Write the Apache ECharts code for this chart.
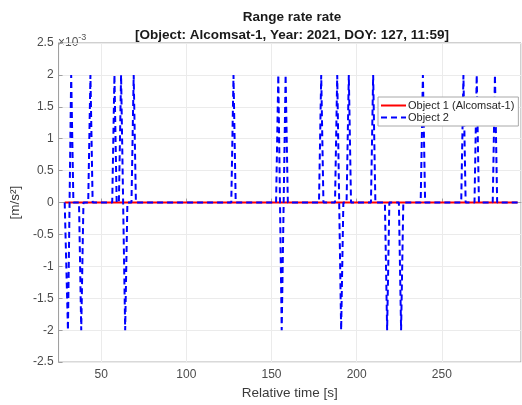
<!DOCTYPE html>
<html>
<head>
<meta charset="utf-8">
<script src="https://cdn.jsdelivr.net/npm/echarts@6/dist/echarts.min.js"></script>
<style>
html,body{margin:0;padding:0;background:#fff;}
#chart{width:522px;height:405px;}
</style>
</head>
<body>
<div id="chart"></div>
<script>
// ---- data (values in units of 1e-3 m/s^2) ----
var titleLine1 = 'Range rate rate';
var titleLine2 = '[Object: Alcomsat-1, Year: 2021, DOY: 127, 11:59]';
var xLabel = 'Relative time [s]';
var yLabel = '[m/s\u00B2]';
var seriesNames = ['Object 1 (Alcomsat-1)', 'Object 2'];

var obj1Time = [28.6, 294.5];
var obj1Value = [0, 0];

var obj2Time = [28.6, 29.2, 30.5, 31.45, 32.4, 33.7, 37.0, 38.3, 39.6, 42.4, 43.7, 45.0,
  56.5, 57.8, 59.1, 60.4, 61.7, 62.9, 64.1, 65.4, 67.8, 69.1, 70.4,
  126.4, 127.7, 129.0, 152.7, 154.0, 155.0, 156.0, 157.15, 158.3, 159.6,
  177.9, 179.2, 180.5, 187.3, 188.6, 189.75, 190.9, 192.2, 194.1, 195.4, 196.7,
  208.4, 209.7, 211.0, 216.6, 217.9, 219.2, 224.8, 226.1, 227.4,
  237.6, 238.9, 240.2, 261.4, 262.7, 264.0, 269.2, 270.5, 271.8, 279.9, 281.2, 282.5, 294.5];
var obj2Value = [0, 0, -2, 0, 2, 0, 0, -2, 0, 0, 2, 0,
  0, 2, 0, 0, 2, 0, -2, 0, 0, 2, 0,
  0, 2, 0, 0, 2, 0, -2, 0, 2, 0,
  0, 2, 0, 0, 2, 0, -2, 0, 0, 2, 0,
  0, 2, 0, 0, -2, 0, 0, -2, 0,
  0, 2, 0, 0, 2, 0, 0, 2, 0, 0, 2, 0, 0];

var xMin = 25, xMax = 296.5;
var yMin = -2.5, yMax = 2.5, yStep = 0.5;

function zip(a, b) { return a.map(function (v, i) { return [v, b[i]]; }); }

var FONT = '"Liberation Sans", Arial, sans-serif';
var chart = echarts.init(document.getElementById('chart'), null, {renderer: 'canvas'});
chart.setOption({
  animation: false,
  backgroundColor: '#ffffff',
  textStyle: {fontFamily: FONT},
  grid: {left: 57, right: 1, top: 43, bottom: 40, show: true, borderColor: '#a0a0a0', borderWidth: 1, backgroundColor: 'transparent'},
  graphic: [
    {type: 'text', x: 292, y: 17, style: {text: titleLine1, font: 'bold 13.5px ' + FONT, fill: '#1a1a1a', textAlign: 'center', textVerticalAlign: 'middle'}},
    {type: 'text', x: 292, y: 35, style: {text: titleLine2, font: 'bold 13.5px ' + FONT, fill: '#1a1a1a', textAlign: 'center', textVerticalAlign: 'middle'}},
    {type: 'text', x: 58, y: 31, style: {
      text: '{a|\u00D710}{b|-3}',
      rich: {a: {fontSize: 12, fontFamily: FONT, fill: '#555', padding: [6, 0, 0, 0]}, b: {fontSize: 9, fontFamily: FONT, fill: '#555', padding: [0, 0, 4, 0]}},
      textVerticalAlign: 'top'
    }}
  ],
  legend: {
    orient: 'vertical', left: 378, top: 97,
    data: seriesNames,
    backgroundColor: '#ffffff', borderColor: '#a8a8a8', borderWidth: 1,
    padding: [3, 4, 3, 2], itemGap: 1, itemWidth: 25, itemHeight: 12,
    itemStyle: {opacity: 0},
    textStyle: {fontSize: 11, color: '#262626', fontFamily: FONT, padding: [0, 0, 0, -3]}
  },
  xAxis: {
    type: 'value', min: xMin, max: xMax, splitNumber: 5,
    name: xLabel, nameLocation: 'middle', nameGap: 22,
    nameTextStyle: {fontSize: 13.5, color: '#3a3a3a', fontFamily: FONT},
    axisLine: {show: true, lineStyle: {color: '#a0a0a0', width: 1}},
    axisTick: {show: true, inside: true, length: 4, lineStyle: {color: '#a0a0a0'}},
    axisLabel: {fontSize: 12, color: '#4a4a4a', margin: 7, showMinLabel: false, showMaxLabel: false, fontFamily: FONT},
    splitLine: {show: true, lineStyle: {color: '#ebebeb', width: 1}}
  },
  yAxis: {
    type: 'value', min: yMin, max: yMax, interval: yStep,
    name: yLabel, nameLocation: 'middle', nameGap: 35,
    nameTextStyle: {fontSize: 13.5, color: '#3a3a3a', fontFamily: FONT},
    axisLine: {show: true, lineStyle: {color: '#a0a0a0', width: 1}},
    axisTick: {show: true, inside: true, length: 4, lineStyle: {color: '#a0a0a0'}},
    axisLabel: {fontSize: 12, color: '#4a4a4a', margin: 5, fontFamily: FONT},
    splitLine: {show: true, lineStyle: {color: '#ebebeb', width: 1}}
  },
  series: [
    {name: seriesNames[0], type: 'line', data: zip(obj1Time, obj1Value), symbol: 'none', showSymbol: false,
      lineStyle: {color: '#ff0000', width: 2, type: 'solid'}, itemStyle: {color: '#ff0000'}},
    {name: seriesNames[1], type: 'line', data: zip(obj2Time, obj2Value), symbol: 'none', showSymbol: false,
      lineStyle: {color: '#0000ff', width: 2, type: [6, 4]}, itemStyle: {color: '#0000ff'}}
  ]
});
</script>
</body>
</html>
